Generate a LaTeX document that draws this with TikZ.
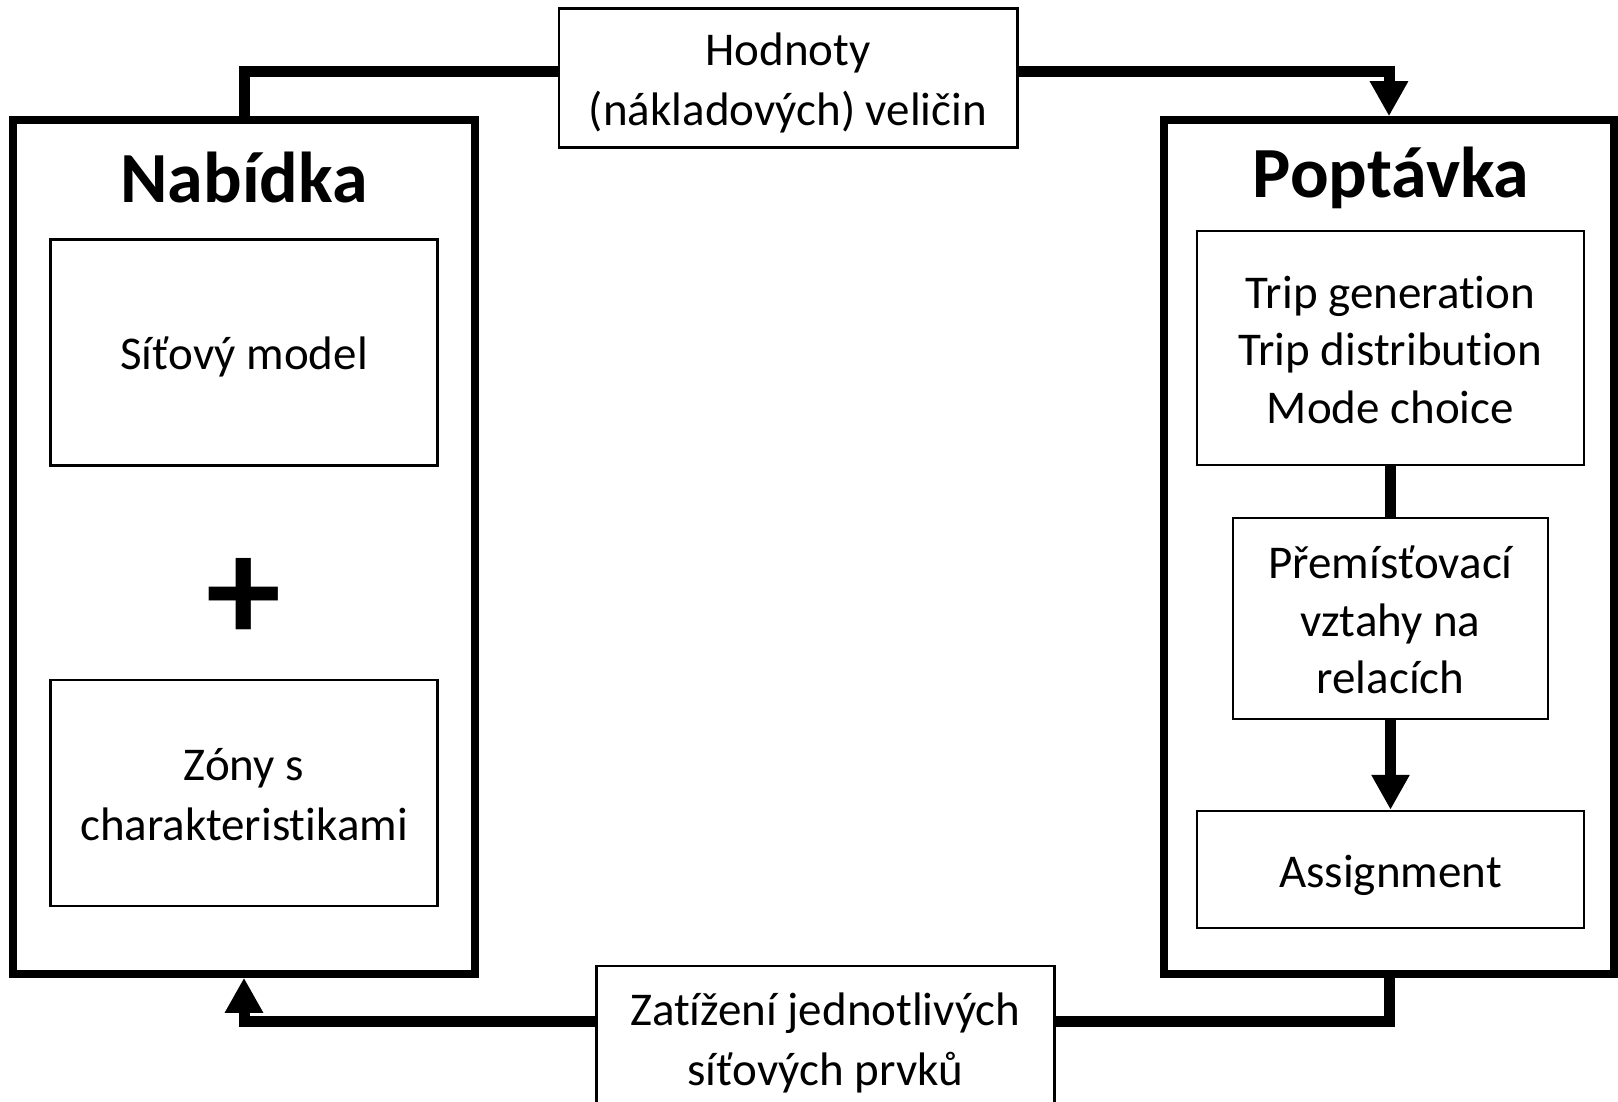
\documentclass[tikz,border=0pt]{standalone}
\usepackage{fontspec}
\setmainfont{Carlito}[Ligatures={TeX,NoCommon},Contextuals=NoAlternate]
\usetikzlibrary{arrows.meta,calc}
\newcommand{\bodyfont}{\fontsize{47}{57.5}\selectfont}
\newcommand{\titlefont}{\fontsize{72}{86}\selectfont\bfseries}
\newcommand{\linestrut}{\rule[-12pt]{0pt}{59pt}}
\begin{document}
\begin{tikzpicture}[x=1pt,y=1pt,
  outerbox/.style={draw, line width=7.5pt, inner sep=0pt},
  innerbox/.style={draw, line width=2.5pt, inner sep=0pt, align=center, font=\bodyfont},
  titletext/.style={inner sep=0pt, font=\titlefont},
  conn/.style={line width=11pt, line join=miter, line cap=butt},
  arr/.style={conn, -{Triangle[length=35pt,width=36pt]}}
]
\useasboundingbox (0,0) rectangle (1618,-1102);
\clip (0,0) rectangle (1618,-1102);

% outer boxes
\node[outerbox, minimum width=462pt, minimum height=854pt] (nab) at (244,-547) {};
\node[outerbox, minimum width=450pt, minimum height=854pt] (pop) at (1389,-547) {};

% titles
\node[titletext] (nabt) at (244,-177.5) {Nabídka};
\node[titletext] (popt) at (1391,-177.5) {Poptávka};

% left inner boxes
\node[innerbox, minimum width=387pt, minimum height=226pt] (sit) at (244,-352.4) {\linestrut Síťový model\linestrut};
\node[inner sep=0pt, font=\fontsize{150}{150}\selectfont\bfseries] (plus) at (244,-600) {+};
\node[innerbox, minimum width=387pt, minimum height=226pt] (zon) at (244,-793) {\linestrut Zóny s\\charakteristikami\linestrut};

% right inner boxes
\node[innerbox, minimum width=387pt, minimum height=234pt] (trip) at (1390.5,-348) {\linestrut Trip generation\\Trip distribution\\Mode choice\linestrut};
\node[innerbox, minimum width=315pt, minimum height=201pt] (prem) at (1390.5,-618.5) {\linestrut Přemísťovací\\vztahy na\\relacích\linestrut};
\node[innerbox, minimum width=387pt, minimum height=117pt] (asg) at (1390.5,-869.5) {\linestrut Assignment\linestrut};

% label boxes
\node[innerbox, minimum width=458.5pt, minimum height=139pt] (top) at (788,-78) {\linestrut Hodnoty\\(nákladových) veličin\linestrut};
\node[innerbox, minimum width=458pt, minimum height=143pt] (bot) at (825.5,-1037.5) {\linestrut Zatížení jednotlivých\\síťových prvků\linestrut};

% connectors
\draw[conn] (nab.north) |- ($(top.west)+(0,6)$);
\draw[arr] ($(top.east)+(0,6)$) -| (pop.north);
\coordinate (ly) at (0,-1021.6);
\draw[conn] (pop.south) |- (bot.east |- ly);
\draw[arr] (bot.west |- ly) -| (nab.south);
\draw[conn] (trip.south) -- (prem.north);
\draw[arr] (prem.south) -- (asg.north);
\end{tikzpicture}
\end{document}
